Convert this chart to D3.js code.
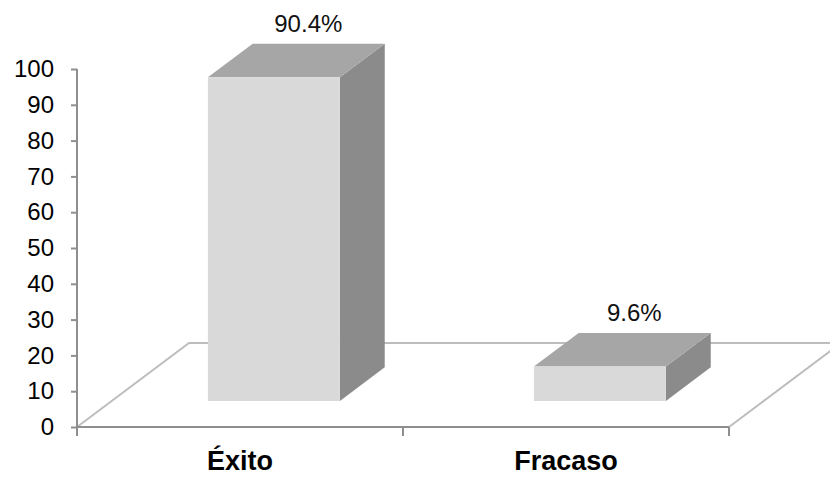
<!DOCTYPE html>
<html>
<head>
<meta charset="utf-8">
<script src="https://cdn.jsdelivr.net/npm/d3@7"></script>
<style>
  body { margin: 0; background: #fff; }
  text { font-family: Arial, "Liberation Sans", sans-serif; }
</style>
</head>
<body>
<div id="chart"></div>
<script>
    let categories = ["Éxito", "Fracaso"];
    let values = [90.4, 9.6];
    let valueLabels = ["90.4%", "9.6%"];
    let yTicks = [0, 10, 20, 30, 40, 50, 60, 70, 80, 90, 100];

    let width = 830, height = 478;

    // 3D depth of the floor (full depth) and where the bars sit in it
    let depth = {dx: 112, dy: -84};
    let barFront = 0.31, barBack = 0.71;

    let svg = d3.select("#chart")
      .append("svg")
        .attr("width", width)
        .attr("height", height);

    let x = d3.scaleBand()
        .domain(categories)
        .range([77, 729]);

    let y = d3.scaleLinear()
        .domain([0, 100])
        .range([427, 69]);

    function shift(p, f) {
        return [p[0] + depth.dx * f, p[1] + depth.dy * f];
    }

    // floor
    let x0 = x.range()[0], x1 = x.range()[1], y0 = y(0);
    let floor = [[x0, y0], shift([x0, y0], 1), shift([x1, y0], 1), [x1, y0]];
    svg.append("path")
        .attr("d", d3.line()(floor))
        .attr("fill", "none")
        .attr("stroke", "#bdbdbd")
        .attr("stroke-width", 2);

    // bars
    let bars = svg.selectAll(".bar")
        .data(values)
        .enter()
        .append("g")
        .attr("class", "bar");

    function barBox(d, i) {
        let bx0 = x(categories[i]) + x.bandwidth() * 0.295;
        let bx1 = bx0 + x.bandwidth() * 0.405;
        return {
            fl: shift([bx0, y(d)], barFront), fr: shift([bx1, y(d)], barFront),
            frb: shift([bx1, y(0)], barFront), flb: shift([bx0, y(0)], barFront),
            bl: shift([bx0, y(d)], barBack), br: shift([bx1, y(d)], barBack),
            brb: shift([bx1, y(0)], barBack)
        };
    }

    bars.append("path")
        .attr("d", (d, i) => { let b = barBox(d, i); return d3.line()([b.fr, b.br, b.brb, b.frb]) + "Z"; })
        .attr("fill", "#8b8b8b");

    bars.append("path")
        .attr("d", (d, i) => { let b = barBox(d, i); return d3.line()([b.fl, b.bl, b.br, b.fr]) + "Z"; })
        .attr("fill", "#a6a6a6");

    bars.append("path")
        .attr("d", (d, i) => { let b = barBox(d, i); return d3.line()([b.fl, b.fr, b.frb, b.flb]) + "Z"; })
        .attr("fill", "#d9d9d9");

    // value labels
    bars.append("text")
        .text((d, i) => valueLabels[i])
        .attr("x", (d, i) => { let b = barBox(d, i); return (b.fl[0] + b.br[0]) / 2 + 12; })
        .attr("y", (d, i) => barBox(d, i).bl[1] - 12)
        .attr("text-anchor", "middle")
        .attr("font-size", "24px")
        .attr("fill", "#111");

    // y axis
    let yAxis = svg.append("g")
        .attr("transform", "translate(" + x0 + ",0)")
        .call(d3.axisLeft(y).tickValues(yTicks).tickSize(6).tickPadding(17));

    // x axis
    let xAxis = svg.append("g")
        .attr("transform", "translate(0," + y0 + ")")
        .call(d3.axisBottom(x).tickSize(0).tickPadding(24));

    svg.selectAll(".xedge")
        .data([x0].concat(categories.map(c => x(c) + x.bandwidth())))
        .enter()
        .append("line")
        .attr("x1", d => d).attr("x2", d => d)
        .attr("y1", y0).attr("y2", y0 + 9)
        .attr("stroke", "#8f8f8f")
        .attr("stroke-width", 2);

    yAxis.select(".domain").attr("d", "M0," + y(100) + "V" + y0);
    xAxis.select(".domain").attr("d", "M" + x0 + ",0H" + x1);
    svg.selectAll(".domain, .tick line")
        .attr("stroke", "#8f8f8f")
        .attr("stroke-width", 2);

    yAxis.selectAll("text")
        .attr("font-size", "24px")
        .attr("fill", "#000");

    xAxis.selectAll("text")
        .attr("font-size", "27px")
        .attr("font-weight", "bold")
        .attr("fill", "#000")
        .attr("dy", "0.71em");
</script>
</body>
</html>
